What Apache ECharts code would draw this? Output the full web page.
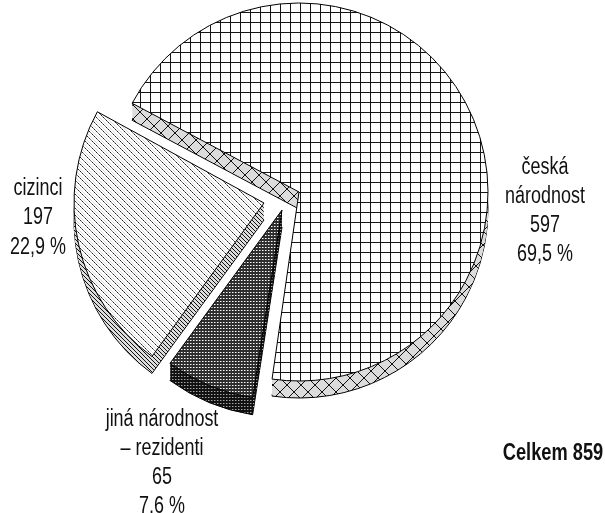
<!DOCTYPE html>
<html>
<head>
<meta charset="utf-8">
<style>
  html, body { margin: 0; padding: 0; background: #fff; }
  #chart { width: 605px; height: 513px; }
</style>
</head>
<body>
<div id="chart"></div>
<script src="https://cdn.jsdelivr.net/npm/echarts@6/dist/echarts.min.js"></script>
<script>
  var categories = ['česká\nnárodnost', 'jiná národnost\n– rezidenti', 'cizinci'];
  var counts = [597, 65, 197];
  var percents = ['69,5 %', '7,6 %', '22,9 %'];
  var totalLabel = 'Celkem 859';

  var chart = echarts.init(document.getElementById('chart'));

  // builds a repeating tile, draw() paints on the background colour
  function tile(w, h, bg, draw) {
    var c = document.createElement('canvas');
    c.width = w;
    c.height = h;
    var ctx = c.getContext('2d');
    ctx.fillStyle = bg;
    ctx.fillRect(0, 0, w, h);
    draw(ctx);
    return { image: c, repeat: 'repeat' };
  }

  function px(ctx, x, y, color) {
    ctx.fillStyle = color;
    ctx.fillRect(x, y, 1, 1);
  }

  var gridTop = tile(10, 10, '#fff', function (ctx) {
    ctx.fillStyle = '#151515';
    ctx.fillRect(0, 0, 1, 10);
    ctx.fillRect(0, 2, 10, 1);
  });

  var gridSide = tile(14, 14, '#dcdcdc', function (ctx) {
    for (var i = 0; i < 14; i++) {
      px(ctx, i, i, '#111');
      px(ctx, 13 - i, i, '#111');
    }
  });

  var hatchTop = tile(7, 7, '#fff', function (ctx) {
    for (var i = 0; i < 7; i++) {
      px(ctx, i, i, i % 2 ? '#222' : '#777');
      px(ctx, (i + 3) % 7, i, '#ddd');
    }
  });

  var hatchSide = tile(4, 4, '#ddd', function (ctx) {
    for (var i = 0; i < 4; i++) {
      px(ctx, i, i, '#111');
    }
  });

  var darkTop = tile(3, 3, '#2e2e2e', function (ctx) {
    px(ctx, 1, 1, '#fff');
    px(ctx, 2, 1, '#999');
  });

  var darkSide = tile(3, 3, '#111', function (ctx) {
    px(ctx, 1, 1, '#aaa');
    px(ctx, 2, 1, '#555');
  });

  var tops = [gridTop, darkTop, hatchTop];
  var sides = [gridSide, darkSide, hatchSide];
  var centers = [[299, 192], [282, 210], [264, 203]];
  var starts = [152, 151.3, 151.3];
  var radii = [189, 190, 190];
  var depth = 17;

  function layer(slice, dy, fill, edge) {
    return {
      type: 'pie',
      silent: true,
      animation: false,
      clockwise: true,
      startAngle: starts[slice],
      radius: [0, radii[slice]],
      center: [centers[slice][0], centers[slice][1] + dy],
      label: { show: false },
      labelLine: { show: false },
      data: counts.map(function (v, i) {
        return {
          value: v,
          itemStyle: i === slice
            ? { color: fill, borderColor: '#000', borderWidth: edge ? 1 : 0 }
            : { color: 'rgba(0,0,0,0)', borderWidth: 0 }
        };
      })
    };
  }

  var series = [];
  [0, 1, 2].forEach(function (s) {
    for (var d = depth; d > 0; d--) {
      series.push(layer(s, d, sides[s], d === depth));
    }
    series.push(layer(s, 0, tops[s], true));
  });

  function textEl(x, y, text, font, lh, sx) {
    return {
      type: 'text',
      x: x,
      y: y,
      scaleX: sx,
      style: {
        text: text,
        font: font,
        lineHeight: lh,
        fill: '#111',
        align: 'center',
        verticalAlign: 'top'
      }
    };
  }

  var labelFont = '23px "Liberation Sans", sans-serif';

  function labelText(i) {
    return categories[i] + '\n' + counts[i] + '\n' + percents[i];
  }

  chart.setOption({
    animation: false,
    series: series,
    graphic: [
      textEl(545, 153, labelText(0), labelFont, 29, 0.78),
      textEl(162, 405, labelText(1), labelFont, 29, 0.78),
      textEl(38, 173.5, labelText(2), labelFont, 29.5, 0.78),
      textEl(553, 441, totalLabel, 'bold 24px "Liberation Sans", sans-serif', 24, 0.76)
    ]
  });
</script>
</body>
</html>
